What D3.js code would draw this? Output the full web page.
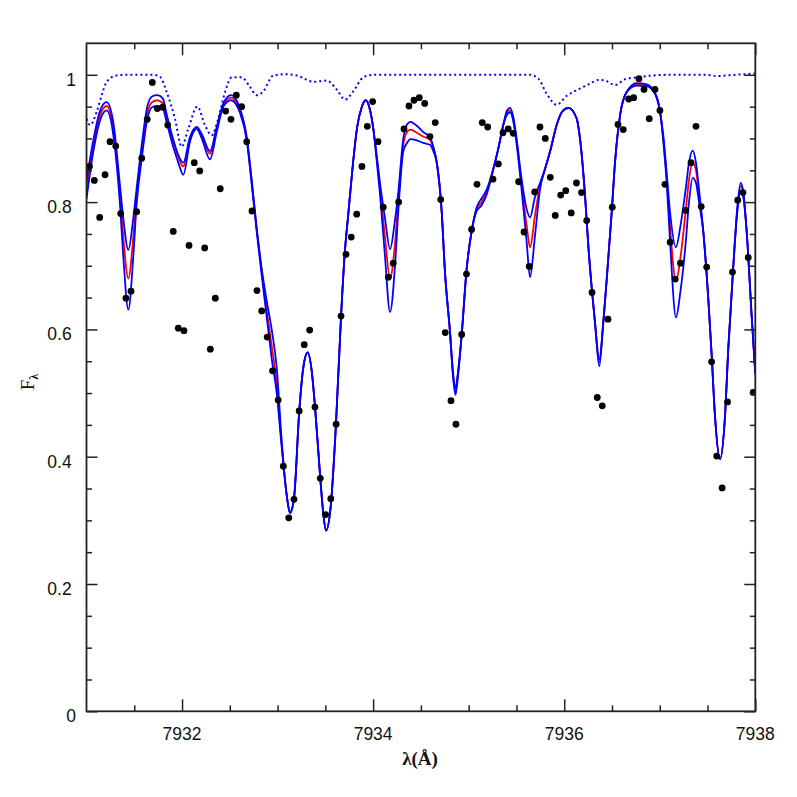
<!DOCTYPE html>
<html><head><meta charset="utf-8">
<script src="https://cdn.jsdelivr.net/npm/d3@7"></script>
<style>body{margin:0;background:#fff}svg{display:block}</style>
</head><body>
<svg id="chart" width="797" height="797"></svg>
<script>
// ---- Observed spectrum (black dots) ----
const obsWave = [
7931.031,7931.082,7931.138,7931.194,7931.246,7931.306,7931.358,7931.413,7931.466,7931.525,
7931.578,7931.636,7931.689,7931.741,7931.797,7931.850,7931.908,7931.961,7932.020,7932.073,
7932.128,7932.185,7932.237,7932.296,7932.348,7932.400,7932.457,7932.512,7932.568,7932.624,
7932.677,7932.732,7932.784,7932.834,7932.891,7932.947,7933.006,7933.060,7933.117,7933.172,
7933.226,7933.279,7933.336,7933.391,7933.447,7933.503,7933.557,7933.613,7933.664,7933.716,
7933.771,7933.828,7933.883,7933.939,7933.995,7934.051,7934.106,7934.159,7934.211,7934.267,
7934.323,7934.375,7934.428,7934.483,7934.540,7934.595,7934.650,7934.707,7934.755,7934.815,
7934.867,7934.927,7934.977,7935.031,7935.087,7935.142,7935.199,7935.254,7935.310,7935.359,
7935.414,7935.467,7935.523,7935.579,7935.634,7935.691,7935.746,7935.802,7935.854,7935.906,
7935.963,7936.016,7936.073,7936.128,7936.181,7936.235,7936.291,7936.346,7936.398,7936.458,
7936.503,7936.563,7936.618,7936.675,7936.727,7936.782,7936.835,7936.890,7936.950,7937.002,
7937.054,7937.109,7937.162,7937.217,7937.271,7937.327,7937.379,7937.434,7937.491,7937.543,
7937.596,7937.653,7937.709,7937.761,7937.816,7937.871,7937.926,7937.978];
const obsFlux = [
0.856,0.834,0.776,0.843,0.895,0.888,0.782,0.649,0.660,0.785,
0.869,0.930,0.988,0.947,0.949,0.921,0.754,0.602,0.598,0.732,
0.862,0.849,0.728,0.569,0.649,0.821,0.943,0.930,0.968,0.950,
0.895,0.786,0.661,0.629,0.588,0.535,0.489,0.385,0.304,0.333,
0.472,0.576,0.599,0.478,0.366,0.309,0.334,0.451,0.621,0.718,
0.745,0.781,0.856,0.919,0.958,0.895,0.792,0.682,0.704,0.800,
0.915,0.951,0.960,0.964,0.955,0.903,0.925,0.804,0.595,0.488,
0.451,0.592,0.687,0.757,0.828,0.925,0.918,0.836,0.860,0.909,
0.915,0.908,0.832,0.753,0.699,0.816,0.918,0.900,0.839,0.779,
0.811,0.818,0.783,0.830,0.815,0.771,0.658,0.493,0.480,0.616,
0.792,0.922,0.914,0.962,0.964,0.994,0.977,0.931,0.977,0.944,
0.828,0.737,0.679,0.704,0.787,0.862,0.919,0.793,0.698,0.549,
0.401,0.351,0.486,0.690,0.803,0.815,0.713,0.501];

// ---- Synthetic spectra (red = best fit, blue = +/- abundance) ----
const modelWave = [
7931.000,7931.071,7931.141,7931.211,7931.281,7931.351,7931.385,7931.438,7931.490,7931.525,
7931.578,7931.636,7931.686,7931.741,7931.798,7931.839,7931.909,7931.961,7932.013,7932.083,
7932.153,7932.206,7932.293,7932.363,7932.432,7932.512,7932.607,7932.677,7932.729,7932.781,
7932.834,7932.886,7932.938,7932.991,7933.043,7933.095,7933.130,7933.172,7933.227,7933.269,
7933.315,7933.357,7933.392,7933.447,7933.479,7933.507,7933.556,7933.611,7933.664,7933.702,
7933.740,7933.786,7933.834,7933.878,7933.922,7933.967,7934.002,7934.037,7934.072,7934.124,
7934.177,7934.229,7934.263,7934.316,7934.355,7934.391,7934.456,7934.525,7934.595,7934.630,
7934.665,7934.718,7934.752,7934.805,7934.836,7934.862,7934.888,7934.927,7934.979,7935.032,
7935.084,7935.136,7935.189,7935.258,7935.310,7935.362,7935.401,7935.433,7935.467,7935.503,
7935.555,7935.607,7935.642,7935.694,7935.747,7935.799,7935.851,7935.921,7935.977,7936.045,
7936.131,7936.165,7936.218,7936.252,7936.288,7936.322,7936.367,7936.409,7936.445,7936.497,
7936.532,7936.584,7936.654,7936.759,7936.863,7936.950,7937.003,7937.037,7937.073,7937.107,
7937.170,7937.215,7937.272,7937.306,7937.345,7937.379,7937.411,7937.456,7937.508,7937.544,
7937.578,7937.631,7937.683,7937.717,7937.770,7937.812,7937.847,7937.877,7937.910,7937.962,
7938.000];
const modelRed = [
0.821,0.889,0.936,0.951,0.915,0.810,0.745,0.680,0.745,0.810,
0.879,0.940,0.957,0.960,0.955,0.931,0.894,0.871,0.856,0.900,
0.917,0.905,0.876,0.915,0.952,0.964,0.944,0.900,0.832,0.758,
0.690,0.630,0.575,0.515,0.420,0.340,0.312,0.335,0.472,0.540,
0.564,0.535,0.478,0.366,0.310,0.284,0.322,0.451,0.620,0.718,
0.781,0.856,0.919,0.948,0.960,0.945,0.915,0.870,0.821,0.745,
0.680,0.735,0.800,0.890,0.910,0.914,0.909,0.903,0.898,0.885,
0.863,0.784,0.690,0.595,0.530,0.503,0.530,0.592,0.695,0.755,
0.789,0.800,0.816,0.852,0.884,0.921,0.940,0.944,0.930,0.894,
0.826,0.763,0.729,0.779,0.826,0.852,0.879,0.921,0.942,0.948,
0.931,0.900,0.810,0.732,0.665,0.611,0.548,0.611,0.679,0.784,
0.863,0.936,0.973,0.985,0.984,0.971,0.942,0.900,0.837,0.763,
0.676,0.711,0.787,0.835,0.862,0.850,0.810,0.753,0.648,0.558,
0.464,0.396,0.464,0.569,0.700,0.789,0.825,0.810,0.753,0.621,
0.530];
const modelBlueHigh = [
0.834,0.897,0.943,0.957,0.925,0.825,0.775,0.725,0.775,0.822,
0.890,0.950,0.966,0.968,0.963,0.938,0.898,0.874,0.862,0.902,
0.918,0.907,0.880,0.918,0.955,0.968,0.947,0.902,0.835,0.760,
0.695,0.645,0.600,0.540,0.425,0.340,0.313,0.335,0.472,0.540,
0.564,0.535,0.478,0.366,0.310,0.284,0.322,0.451,0.620,0.718,
0.781,0.856,0.919,0.948,0.960,0.945,0.915,0.874,0.830,0.775,
0.726,0.772,0.815,0.900,0.922,0.926,0.920,0.910,0.902,0.887,
0.863,0.784,0.690,0.595,0.533,0.508,0.533,0.592,0.695,0.755,
0.792,0.806,0.820,0.852,0.884,0.921,0.944,0.948,0.934,0.898,
0.835,0.789,0.776,0.808,0.830,0.852,0.879,0.921,0.942,0.948,
0.931,0.900,0.810,0.732,0.665,0.611,0.553,0.611,0.679,0.784,
0.863,0.936,0.973,0.987,0.985,0.971,0.942,0.905,0.845,0.785,
0.729,0.761,0.821,0.862,0.881,0.862,0.820,0.753,0.648,0.558,
0.464,0.396,0.464,0.569,0.700,0.792,0.830,0.813,0.753,0.621,
0.530];
const modelBlueLow = [
0.805,0.879,0.928,0.944,0.905,0.795,0.715,0.631,0.715,0.797,
0.868,0.930,0.949,0.951,0.948,0.925,0.886,0.862,0.843,0.895,
0.915,0.900,0.867,0.910,0.950,0.960,0.940,0.897,0.828,0.754,
0.685,0.620,0.555,0.500,0.415,0.340,0.311,0.335,0.472,0.540,
0.564,0.535,0.478,0.366,0.310,0.284,0.322,0.451,0.620,0.718,
0.781,0.856,0.919,0.948,0.960,0.945,0.915,0.866,0.812,0.715,
0.627,0.700,0.785,0.880,0.893,0.899,0.897,0.893,0.890,0.880,
0.863,0.784,0.690,0.595,0.526,0.497,0.526,0.592,0.695,0.755,
0.786,0.795,0.812,0.852,0.884,0.921,0.937,0.941,0.927,0.890,
0.818,0.737,0.682,0.747,0.820,0.852,0.879,0.921,0.942,0.948,
0.931,0.900,0.810,0.732,0.665,0.611,0.542,0.611,0.679,0.784,
0.863,0.936,0.973,0.983,0.982,0.971,0.942,0.895,0.830,0.740,
0.619,0.658,0.737,0.800,0.838,0.830,0.800,0.753,0.648,0.558,
0.464,0.396,0.464,0.569,0.700,0.785,0.818,0.805,0.753,0.621,
0.530];

// ---- Telluric / continuum spectrum (blue dotted) ----
const contWave = [
7931.002,7931.037,7931.107,7931.159,7931.211,7931.316,7931.421,7931.699,7931.769,7931.839,
7931.926,7931.996,7932.065,7932.160,7932.240,7932.310,7932.379,7932.450,7932.520,7932.624,
7932.711,7932.781,7932.850,7932.955,7933.095,7933.200,7933.374,7933.514,7933.619,7933.706,
7933.792,7933.897,7934.002,7935.642,7935.729,7935.817,7935.921,7936.026,7936.147,7936.270,
7936.357,7936.427,7936.532,7936.636,7936.759,7936.932,7937.107,7937.491,7937.613,7937.701,
7938.000];
const contFlux = [
0.931,0.921,0.942,0.968,0.989,0.999,1.000,1.000,0.997,0.973,
0.931,0.887,0.915,0.950,0.921,0.905,0.931,0.973,0.996,0.996,
0.981,0.968,0.974,0.999,1.001,0.999,0.989,0.991,0.977,0.961,
0.974,0.996,1.000,1.000,0.994,0.970,0.953,0.967,0.977,0.986,
0.992,0.991,0.984,0.993,0.996,0.999,1.000,1.000,0.998,0.999,
1.002];

// ---- Axes ticks / labels ----
const xMajorTicks = [7932, 7934, 7936, 7938];
const xMinorTicks = [7931.5, 7932.5, 7933, 7933.5, 7934.5, 7935, 7935.5, 7936.5, 7937, 7937.5];
const yMajorTicks = [0, 0.2, 0.4, 0.6, 0.8, 1];
const yTickLabels = ["0", "0.2", "0.4", "0.6", "0.8", "1"];
const yMinorTicks = [0.05,0.1,0.15,0.25,0.3,0.35,0.45,0.5,0.55,0.65,0.7,0.75,0.85,0.9,0.95];
const xAxisTitle = "λ(Å)";
const yAxisTitle = "F";
const yAxisSub = "λ";

const svg = d3.select("#chart");
const L = 86.5, R = 755.3, T = 43.3, B = 711.3;
const x = d3.scaleLinear().domain([7931, 7938]).range([L, R]);
const y = d3.scaleLinear().domain([0, 1.0495]).range([B, T]);

svg.append("rect").attr("width", 797).attr("height", 797).attr("fill", "#fff");
svg.append("defs").append("clipPath").attr("id", "clip")
  .append("rect").attr("x", L).attr("y", T).attr("width", R - L).attr("height", B - T);

const plot = svg.append("g").attr("clip-path", "url(#clip)");
const mk = (w, f) => d3.line().x(i => x(w[i])).y(i => y(f[i])).curve(d3.curveMonotoneX);

plot.append("path").attr("d", mk(contWave, contFlux)(d3.range(contWave.length)))
  .attr("fill", "none").attr("stroke", "#0000ff").attr("stroke-width", 2)
  .attr("stroke-dasharray", "2 3");
const idx = d3.range(modelWave.length);
plot.append("path").attr("d", mk(modelWave, modelRed)(idx))
  .attr("fill", "none").attr("stroke", "#ff0000").attr("stroke-width", 1.8);
plot.append("path").attr("d", mk(modelWave, modelBlueHigh)(idx))
  .attr("fill", "none").attr("stroke", "#0000ff").attr("stroke-width", 1.8);
plot.append("path").attr("d", mk(modelWave, modelBlueLow)(idx))
  .attr("fill", "none").attr("stroke", "#0000ff").attr("stroke-width", 1.8);

plot.selectAll("circle.obs").data(d3.range(obsWave.length)).join("circle")
  .attr("class", "obs")
  .attr("cx", i => x(obsWave[i])).attr("cy", i => y(obsFlux[i])).attr("r", 3.4)
  .attr("fill", "#000");

// axes
const axisCol = "#222";
function styleAxis(g) {
  g.select(".domain").remove();
  g.selectAll(".tick line").attr("stroke", axisCol).attr("stroke-width", 1.5);
  g.selectAll(".tick text").remove();
}
const ax = svg.append("g");
ax.append("g").attr("transform", `translate(0,${B})`)
  .call(d3.axisBottom(x).tickValues(xMajorTicks).tickSize(-12)).call(styleAxis);
ax.append("g").attr("transform", `translate(0,${B})`)
  .call(d3.axisBottom(x).tickValues(xMinorTicks).tickSize(-6)).call(styleAxis);
ax.append("g").attr("transform", `translate(0,${T})`)
  .call(d3.axisTop(x).tickValues(xMajorTicks).tickSize(-12)).call(styleAxis);
ax.append("g").attr("transform", `translate(0,${T})`)
  .call(d3.axisTop(x).tickValues(xMinorTicks).tickSize(-6)).call(styleAxis);
ax.append("g").attr("transform", `translate(${L},0)`)
  .call(d3.axisLeft(y).tickValues(yMajorTicks).tickSize(-11)).call(styleAxis);
ax.append("g").attr("transform", `translate(${L},0)`)
  .call(d3.axisLeft(y).tickValues(yMinorTicks).tickSize(-5.5)).call(styleAxis);
ax.append("g").attr("transform", `translate(${R},0)`)
  .call(d3.axisRight(y).tickValues(yMajorTicks).tickSize(-11)).call(styleAxis);
ax.append("g").attr("transform", `translate(${R},0)`)
  .call(d3.axisRight(y).tickValues(yMinorTicks).tickSize(-5.5)).call(styleAxis);

svg.append("rect").attr("x", L).attr("y", T).attr("width", R - L).attr("height", B - T)
  .attr("fill", "none").attr("stroke", axisCol).attr("stroke-width", 1.8);

// tick labels
const font = "'Liberation Sans', Arial, Helvetica, sans-serif";
svg.append("g").selectAll("text").data(xMajorTicks).join("text")
  .attr("x", d => x(d)).attr("y", 740)
  .attr("text-anchor", "middle").attr("font-family", font).attr("font-size", 17.5)
  .attr("fill", "#111").text(d => d);
svg.append("g").selectAll("text").data(yMajorTicks).join("text")
  .attr("x", (d, i) => yTickLabels[i].length === 1 ? L - 10.5 : L - 14.8)
  .attr("y", d => y(d) + 10.8)
  .attr("text-anchor", "end").attr("font-family", font).attr("font-size", 17.5)
  .attr("fill", "#111").text((d, i) => yTickLabels[i]);

// axis titles
svg.append("text").attr("x", 420).attr("y", 765).attr("text-anchor", "middle")
  .attr("font-family", "'Liberation Serif', 'Times New Roman', serif")
  .attr("font-weight", "bold").attr("font-size", 19).attr("fill", "#111").text(xAxisTitle);
const yt = svg.append("text").attr("transform", "translate(34,382) rotate(-90)")
  .attr("text-anchor", "middle")
  .attr("font-family", "'Liberation Serif', 'Times New Roman', serif")
  .attr("font-size", 19).attr("fill", "#111");
yt.append("tspan").text(yAxisTitle);
yt.append("tspan").attr("dy", 4).attr("font-size", 12).attr("font-weight", "bold").text(yAxisSub);
</script>
</body></html>
